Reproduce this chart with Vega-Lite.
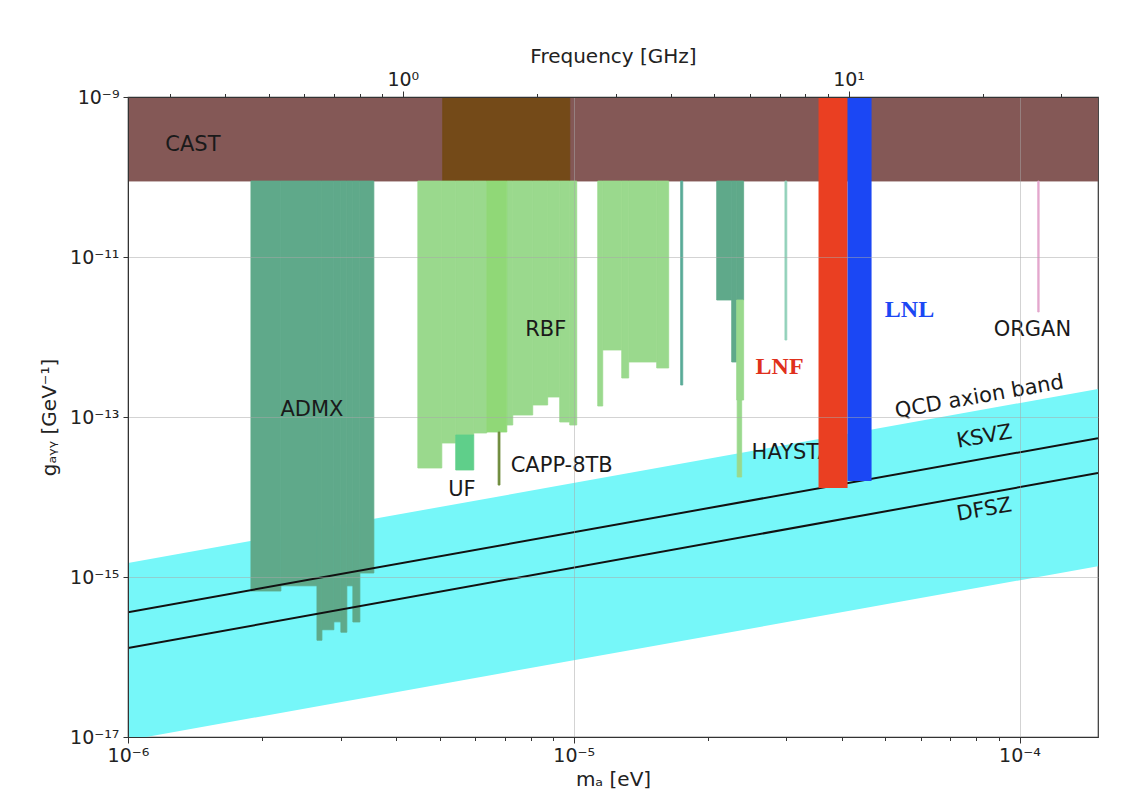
{
  "$schema": "https://vega.github.io/schema/vega-lite/v6.json",
  "width": 970,
  "height": 640,
  "autosize": {"type": "none"},
  "padding": {"left": 128, "top": 97, "right": 44, "bottom": 73},
  "background": "#ffffff",
  "config": {
    "view": {"stroke": "#333333", "strokeWidth": 1.2},
    "axis": {
      "labelFont": "DejaVu Sans", "titleFont": "DejaVu Sans",
      "labelFontSize": 19, "titleFontSize": 20,
      "labelColor": "#222222", "titleColor": "#222222",
      "titleFontWeight": "normal", "domainColor": "#333333", "tickColor": "#333333",
      "labelFlush": false, "labelOverlap": false
    }
  },
  "resolve": {"axis": {"x": "independent", "y": "independent"}},
  "layer": [
    {
      "data": {"values": [
        {"m": 1e-6, "lo": 9.1e-18, "hi": 1.5e-15},
        {"m": 1.5e-4, "lo": 1.365e-15, "hi": 2.24e-13}
      ]},
      "mark": {"type": "area", "clip": true, "color": "#76f7f9", "opacity": 1},
      "encoding": {
        "x": {"field": "m", "type": "quantitative",
          "scale": {"type": "log", "domain": [1e-6, 1.5e-4], "nice": false, "zero": false},
          "axis": {"orient": "bottom", "title": "mₐ [eV]", "zindex": 1,
            "values": [1e-6, 2e-6, 3e-6, 4e-6, 5e-6, 6e-6, 7e-6, 8e-6, 9e-6, 1e-5, 2e-5, 3e-5, 4e-5, 5e-5, 6e-5, 7e-5, 8e-5, 9e-5, 1e-4],
            "labelExpr": "datum.value < 1.5e-6 ? '10⁻⁶' : abs(datum.value - 1e-5) < 1e-8 ? '10⁻⁵' : abs(datum.value - 1e-4) < 1e-7 ? '10⁻⁴' : ''",
            "grid": true, "gridColor": "#a8a8a8",
            "gridOpacity": {"condition": {"test": "abs(log(datum.value)/LN10 - round(log(datum.value)/LN10)) < 0.001", "value": 0.5}, "value": 0},
            "tickSize": {"condition": {"test": "abs(log(datum.value)/LN10 - round(log(datum.value)/LN10)) < 0.001", "value": 6}, "value": 3.5},
            "labelPadding": 3, "titlePadding": 4}},
        "y": {"field": "hi", "type": "quantitative",
          "scale": {"type": "log", "domain": [1e-17, 1e-9], "nice": false, "zero": false},
          "axis": {"title": "gₐᵧᵧ [GeV⁻¹]", "zindex": 1,
            "values": [1e-17, 1e-15, 1e-13, 1e-11, 1e-9],
            "labelExpr": "datum.value < 1e-16 ? '10⁻¹⁷' : datum.value < 1e-14 ? '10⁻¹⁵' : datum.value < 1e-12 ? '10⁻¹³' : datum.value < 1e-10 ? '10⁻¹¹' : '10⁻⁹'",
            "grid": true, "gridColor": "#a8a8a8", "gridOpacity": 0.5,
            "tickSize": 5, "labelPadding": 4, "titlePadding": 10}},
        "y2": {"field": "lo"}
      }
    },
    {
      "data": {"values": [
        {"kind": "CAST", "x1": 1e-6, "x2": 1.5e-4, "lo": 8.9e-11, "hi": 1e-9},
        {"kind": "CASTb", "x1": 5.08e-6, "x2": 9.8e-6, "lo": 8.9e-11, "hi": 1e-9},
        {"kind": "ADMX", "x1": 1.887e-6, "x2": 2.203e-6, "lo": 6.68e-16, "hi": 8.9e-11},
        {"kind": "ADMX", "x1": 2.203e-6, "x2": 2.654e-6, "lo": 7.76e-16, "hi": 8.9e-11},
        {"kind": "ADMX", "x1": 2.654e-6, "x2": 2.723e-6, "lo": 1.62e-16, "hi": 8.9e-11},
        {"kind": "ADMX", "x1": 2.723e-6, "x2": 2.896e-6, "lo": 2.19e-16, "hi": 8.9e-11},
        {"kind": "ADMX", "x1": 2.896e-6, "x2": 3.003e-6, "lo": 2.75e-16, "hi": 8.9e-11},
        {"kind": "ADMX", "x1": 3.003e-6, "x2": 3.097e-6, "lo": 2.04e-16, "hi": 8.9e-11},
        {"kind": "ADMX", "x1": 3.097e-6, "x2": 3.195e-6, "lo": 7.76e-16, "hi": 8.9e-11},
        {"kind": "ADMX", "x1": 3.195e-6, "x2": 3.313e-6, "lo": 2.74e-16, "hi": 8.9e-11},
        {"kind": "ADMX", "x1": 3.313e-6, "x2": 3.561e-6, "lo": 1.122e-15, "hi": 8.9e-11},
        {"kind": "RBF", "x1": 4.469e-6, "x2": 5.058e-6, "lo": 2.305e-14, "hi": 8.9e-11},
        {"kind": "RBF", "x1": 5.058e-6, "x2": 5.435e-6, "lo": 4.73e-14, "hi": 8.9e-11},
        {"kind": "RBF", "x1": 5.435e-6, "x2": 5.966e-6, "lo": 5.96e-14, "hi": 8.9e-11},
        {"kind": "RBF", "x1": 5.966e-6, "x2": 6.38e-6, "lo": 6.31e-14, "hi": 8.9e-11},
        {"kind": "RBF", "x1": 7.077e-6, "x2": 7.298e-6, "lo": 7.94e-14, "hi": 8.9e-11},
        {"kind": "RBF", "x1": 7.298e-6, "x2": 8.09e-6, "lo": 1.059e-13, "hi": 8.9e-11},
        {"kind": "RBF", "x1": 8.09e-6, "x2": 8.74e-6, "lo": 1.413e-13, "hi": 8.9e-11},
        {"kind": "RBF", "x1": 8.74e-6, "x2": 9.3e-6, "lo": 1.778e-13, "hi": 8.9e-11},
        {"kind": "RBF", "x1": 9.3e-6, "x2": 9.795e-6, "lo": 8.66e-14, "hi": 8.9e-11},
        {"kind": "RBF", "x1": 9.795e-6, "x2": 1.0155e-5, "lo": 7.94e-14, "hi": 8.9e-11},
        {"kind": "CAPP", "x1": 6.38e-6, "x2": 7.077e-6, "lo": 6.49e-14, "hi": 8.9e-11},
        {"kind": "UF", "x1": 5.435e-6, "x2": 5.966e-6, "lo": 2.176e-14, "hi": 5.96e-14},
        {"kind": "CAPP8TB", "x1": 6.765e-6, "x2": 6.832e-6, "lo": 1.41e-14, "hi": 6.49e-14},
        {"kind": "RBF", "x1": 1.1318e-5, "x2": 1.1614e-5, "lo": 1.372e-13, "hi": 8.9e-11},
        {"kind": "RBF", "x1": 1.1614e-5, "x2": 1.2812e-5, "lo": 6.88e-13, "hi": 8.9e-11},
        {"kind": "RBF", "x1": 1.2812e-5, "x2": 1.3283e-5, "lo": 3.073e-13, "hi": 8.9e-11},
        {"kind": "RBF", "x1": 1.3283e-5, "x2": 1.535e-5, "lo": 4.87e-13, "hi": 8.9e-11},
        {"kind": "RBF", "x1": 1.535e-5, "x2": 1.633e-5, "lo": 4.1e-13, "hi": 8.9e-11},
        {"kind": "thin1", "x1": 1.737e-5, "x2": 1.756e-5, "lo": 2.51e-13, "hi": 8.9e-11},
        {"kind": "ADMX", "x1": 2.0925e-5, "x2": 2.261e-5, "lo": 2.9e-12, "hi": 8.9e-11},
        {"kind": "ADMX", "x1": 2.261e-5, "x2": 2.32e-5, "lo": 4.87e-13, "hi": 8.9e-11},
        {"kind": "ADMX", "x1": 2.32e-5, "x2": 2.405e-5, "lo": 2.9e-12, "hi": 8.9e-11},
        {"kind": "RBF", "x1": 2.32e-5, "x2": 2.405e-5, "lo": 1.63e-13, "hi": 2.9e-12},
        {"kind": "RBF", "x1": 2.326e-5, "x2": 2.381e-5, "lo": 1.778e-14, "hi": 1.63e-13},
        {"kind": "thin2", "x1": 2.977e-5, "x2": 3.006e-5, "lo": 9.17e-13, "hi": 8.9e-11},
        {"kind": "ORGAN", "x1": 1.0985e-4, "x2": 1.107e-4, "lo": 2.054e-12, "hi": 8.9e-11}
      ]},
      "mark": {"type": "rect", "clip": true, "strokeWidth": 0.8},
      "encoding": {
        "x": {"field": "x1", "type": "quantitative", "axis": null},
        "x2": {"field": "x2"},
        "y": {"field": "lo", "type": "quantitative", "axis": null},
        "y2": {"field": "hi"},
        "color": {"field": "kind", "type": "nominal", "legend": null,
          "scale": {"domain": ["CAST", "CASTb", "ADMX", "RBF", "CAPP", "UF", "CAPP8TB", "thin1", "thin2", "ORGAN"],
            "range": ["#845856", "#744a18", "#5fa98a", "#9ad98d", "#90d877", "#5fcf8a", "#6e8c3c", "#5aab98", "#93d2bb", "#e3a8cd"]}},
        "stroke": {"field": "kind", "type": "nominal", "legend": null,
          "scale": {"domain": ["CAST", "CASTb", "ADMX", "RBF", "CAPP", "UF", "CAPP8TB", "thin1", "thin2", "ORGAN"],
            "range": ["#845856", "#744a18", "#5fa98a", "#9ad98d", "#90d877", "#5fcf8a", "#6e8c3c", "#5aab98", "#93d2bb", "#e3a8cd"]}}
      }
    },
    {
      "data": {"values": [
        {"model": "KSVZ", "m": 1e-6, "g": 3.63e-16},
        {"model": "KSVZ", "m": 1.5e-4, "g": 5.43e-14},
        {"model": "DFSZ", "m": 1e-6, "g": 1.296e-16},
        {"model": "DFSZ", "m": 1.5e-4, "g": 1.995e-14}
      ]},
      "mark": {"type": "line", "clip": true, "color": "#111111", "strokeWidth": 2},
      "encoding": {
        "x": {"field": "m", "type": "quantitative",
          "axis": {"orient": "top", "title": "Frequency [GHz]", "zindex": 1,
            "values": [1.2407e-6, 1.6543e-6, 2.0679e-6, 2.4814e-6, 2.895e-6, 3.3086e-6, 3.7221e-6, 4.1357e-6, 8.2714e-6, 1.24071e-5, 1.65428e-5, 2.06785e-5, 2.48142e-5, 2.89499e-5, 3.30856e-5, 3.72213e-5, 4.1357e-5, 8.2714e-5, 1.24071e-4],
            "labelExpr": "abs(datum.value - 4.1357e-6) < 1e-8 ? '10⁰' : abs(datum.value - 4.1357e-5) < 1e-7 ? '10¹' : ''",
            "grid": false,
            "tickSize": {"condition": {"test": "abs(datum.value - 4.1357e-6) < 1e-8 || abs(datum.value - 4.1357e-5) < 1e-7", "value": 6}, "value": 3.5},
            "labelPadding": 2, "titlePadding": 4}},
        "y": {"field": "g", "type": "quantitative", "axis": null},
        "detail": {"field": "model", "type": "nominal"}
      }
    },
    {
      "data": {"values": [
        {"m": 1.398e-6, "g": 2.51e-10, "label": "CAST"},
        {"m": 2.586e-6, "g": 1.223e-13, "label": "ADMX"},
        {"m": 8.65e-6, "g": 1.223e-12, "label": "RBF"},
        {"m": 5.61e-6, "g": 1.223e-14, "label": "UF"},
        {"m": 1.069e-4, "g": 1.223e-12, "label": "ORGAN"}
      ]},
      "mark": {"type": "text", "font": "DejaVu Sans", "fontSize": 21, "color": "#1a1a1a", "align": "center", "baseline": "middle"},
      "encoding": {
        "x": {"field": "m", "type": "quantitative", "axis": null},
        "y": {"field": "g", "type": "quantitative", "axis": null},
        "text": {"field": "label"}
      }
    },
    {
      "data": {"values": [
        {"m": 7.22e-6, "g": 2.44e-14, "label": "CAPP-8TB"},
        {"m": 2.506e-5, "g": 3.55e-14, "label": "HAYSTAC"}
      ]},
      "mark": {"type": "text", "font": "DejaVu Sans", "fontSize": 21, "color": "#1a1a1a", "align": "left", "baseline": "middle"},
      "encoding": {
        "x": {"field": "m", "type": "quantitative", "axis": null},
        "y": {"field": "g", "type": "quantitative", "axis": null},
        "text": {"field": "label"}
      }
    },
    {
      "data": {"values": [
        {"m": 8.13e-5, "g": 1.778e-13, "label": "QCD axion band"},
        {"m": 8.34e-5, "g": 5.62e-14, "label": "KSVZ"},
        {"m": 8.34e-5, "g": 6.88e-15, "label": "DFSZ"}
      ]},
      "mark": {"type": "text", "font": "DejaVu Sans", "fontSize": 21, "color": "#1a1a1a", "align": "center", "baseline": "middle", "angle": 350},
      "encoding": {
        "x": {"field": "m", "type": "quantitative", "axis": null},
        "y": {"field": "g", "type": "quantitative", "axis": null},
        "text": {"field": "label"}
      }
    },
    {
      "data": {"values": [
        {"kind": "LNF", "x1": 3.541e-5, "x2": 4.114e-5, "lo": 1.296e-14, "hi": 1e-9},
        {"kind": "LNL", "x1": 4.114e-5, "x2": 4.657e-5, "lo": 1.585e-14, "hi": 1e-9}
      ]},
      "mark": {"type": "rect", "clip": true},
      "encoding": {
        "x": {"field": "x1", "type": "quantitative", "axis": null},
        "x2": {"field": "x2"},
        "y": {"field": "lo", "type": "quantitative", "axis": null},
        "y2": {"field": "hi"},
        "fill": {"field": "kind", "type": "nominal", "legend": null,
          "scale": {"domain": ["LNF", "LNL"], "range": ["#ea3f22", "#1b47f4"]}}
      }
    },
    {
      "data": {"values": [
        {"m": 2.896e-5, "g": 4.22e-13, "label": "LNF"}
      ]},
      "mark": {"type": "text", "font": "Liberation Serif", "fontWeight": "bold", "fontSize": 24, "align": "center", "baseline": "middle", "color": "#e0301c"},
      "encoding": {
        "x": {"field": "m", "type": "quantitative", "axis": null},
        "y": {"field": "g", "type": "quantitative", "axis": null},
        "text": {"field": "label"}
      }
    },
    {
      "data": {"values": [
        {"m": 5.666e-5, "g": 2.175e-12, "label": "LNL"}
      ]},
      "mark": {"type": "text", "font": "Liberation Serif", "fontWeight": "bold", "fontSize": 24, "align": "center", "baseline": "middle", "color": "#1b47f4"},
      "encoding": {
        "x": {"field": "m", "type": "quantitative", "axis": null},
        "y": {"field": "g", "type": "quantitative", "axis": null},
        "text": {"field": "label"}
      }
    }
  ]
}
